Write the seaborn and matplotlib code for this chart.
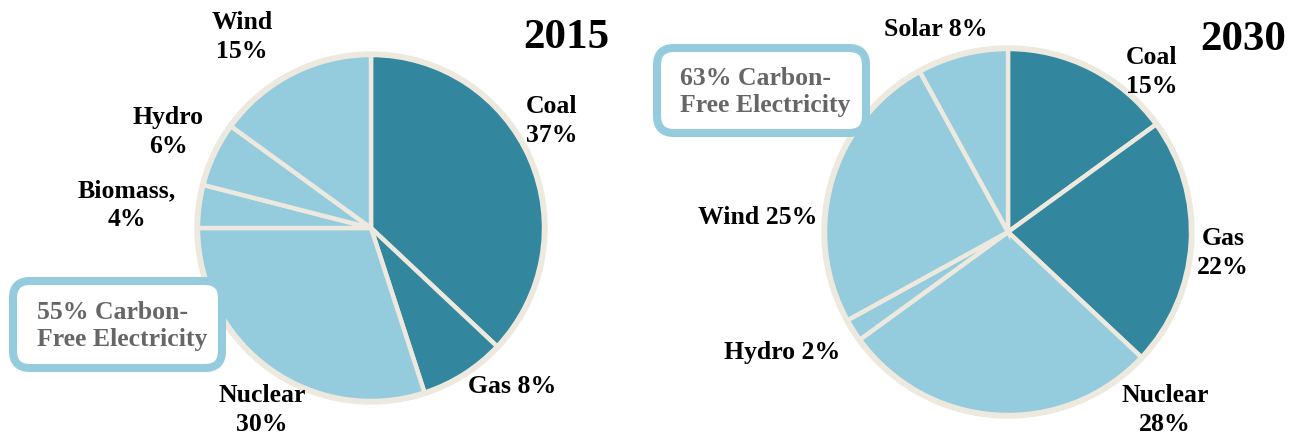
import matplotlib
matplotlib.use("Agg")
import matplotlib.pyplot as plt
import seaborn as sns
from matplotlib.patches import FancyBboxPatch, Circle

# ---- data ----
labels_2015 = ["Coal", "Gas", "Nuclear", "Biomass", "Hydro", "Wind"]
values_2015 = [37, 8, 30, 4, 6, 15]
fossil_2015 = [True, True, False, False, False, False]

labels_2030 = ["Coal", "Gas", "Nuclear", "Hydro", "Wind", "Solar"]
values_2030 = [15, 22, 28, 2, 25, 8]
fossil_2030 = [True, True, False, False, False, False]

carbon_free_2015 = "55% Carbon-\nFree Electricity"
carbon_free_2030 = "63% Carbon-\nFree Electricity"

# ---- style ----
sns.set_theme(style="white")
plt.rcParams["font.family"] = ["Liberation Serif", "DejaVu Serif"]

DARK = "#32869E"
LIGHT = "#94CCDD"
EDGE = "#EDE9DF"
W, H = 1299, 436

fig = plt.figure(figsize=(W / 100, H / 100), dpi=100)
ax = fig.add_axes([0, 0, 1, 1])

def py(y):
    return H - y

def draw_pie(vals, fossil, cx, cy, r):
    ax.add_patch(Circle((cx, py(cy)), r + 3, color=EDGE, zorder=0))
    cols = [DARK if f else LIGHT for f in fossil]
    ax.pie(vals, colors=cols, startangle=90, counterclock=False,
           center=(cx, py(cy)), radius=r,
           wedgeprops=dict(edgecolor=EDGE, linewidth=3.2))

draw_pie(values_2015, fossil_2015, 371, 228, 173)
draw_pie(values_2030, fossil_2030, 1008, 232, 183)

lab_kw = dict(fontsize=18.5, fontweight="bold", color="black",
              ha="center", va="center", linespacing=1.35)

texts = [
    ("Wind\n15%", 242, 37),
    ("Coal\n37%", 552, 121),
    ("Hydro\n6%", 168, 132),
    ("Biomass,\n4%", 127, 205),
    ("Gas 8%", 512, 386),
    ("Nuclear\n30%", 262, 410),
    ("Solar 8%", 936, 30),
    ("Coal\n15%", 1152, 72),
    ("Gas\n22%", 1223, 253),
    ("Wind 25%", 758, 217),
    ("Hydro 2%", 782, 352),
    ("Nuclear\n28%", 1165, 410),
]
for t, x, y in texts:
    ax.text(x, py(y), t, **lab_kw)

ax.text(566, py(38), "2015", fontsize=31, fontweight="bold",
        ha="center", va="center", color="black")
ax.text(1243, py(40), "2030", fontsize=31, fontweight="bold",
        ha="center", va="center", color="black")

def box(x0, y0, x1, y1, text, tx, ty):
    p = FancyBboxPatch((x0, py(y1)), x1 - x0, y1 - y0,
                       boxstyle="round,pad=0,rounding_size=17",
                       facecolor="white", edgecolor=LIGHT, linewidth=5.8,
                       zorder=5)
    ax.add_patch(p)
    ax.text(tx, py(ty), text, fontsize=18.5, fontweight="bold",
            color="#666666", ha="left", va="center", linespacing=1.25,
            zorder=6)

box(13, 281, 222, 368, carbon_free_2015, 37, 326)
box(657, 48, 866, 133, carbon_free_2030, 680, 92)

ax.set_xlim(0, W)
ax.set_ylim(0, H)
ax.set_aspect("auto")
ax.axis("off")

fig.savefig("out.png", dpi=100, facecolor="white")
